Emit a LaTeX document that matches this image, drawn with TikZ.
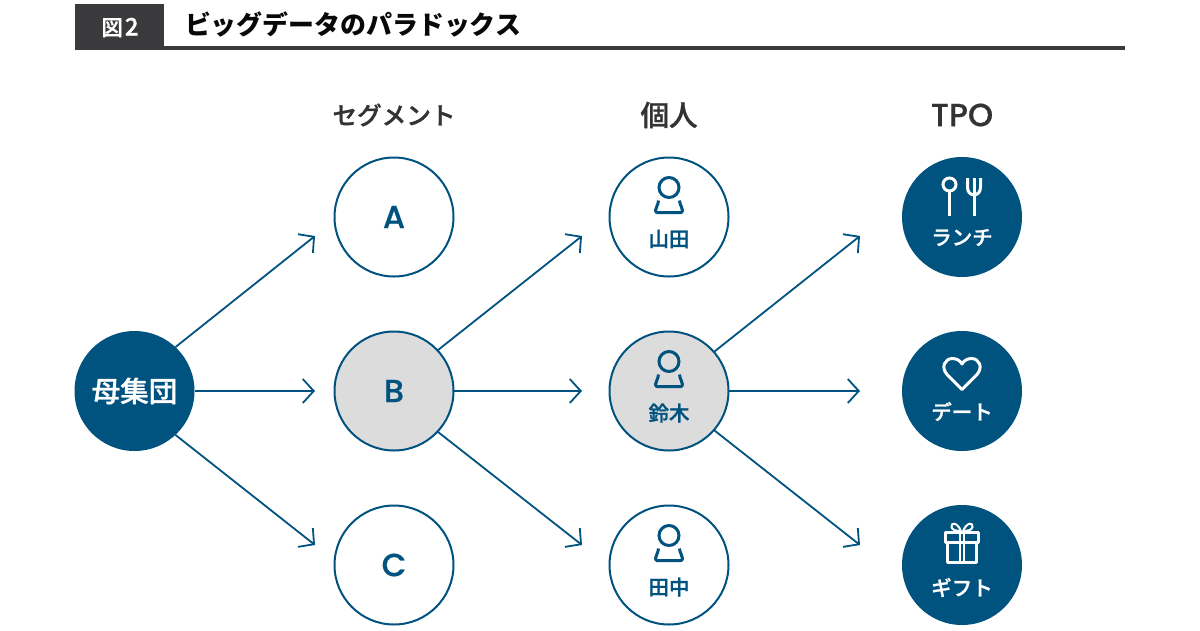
\documentclass[tikz,border=0pt]{standalone}
\usepackage{fontspec}
\setmainfont{Noto Sans CJK JP}
\newfontfamily\semijp{Noto Sans CJK JP Medium}[FakeBold=1.2]
\newfontfamily\latinhead{Poppins Medium}[FakeBold=0.6]
\usetikzlibrary{arrows.meta}
\definecolor{navy}{HTML}{00527F}
\definecolor{ink}{HTML}{333333}
\definecolor{headbar}{HTML}{3A3A3C}
\definecolor{hilite}{HTML}{DCDCDC}
\tikzset{
  every node/.style={inner sep=0pt,outer sep=0pt},
  ringbox/.style={circle,draw=navy,line width=2pt,fill=white,minimum size=119pt},
  greybox/.style={ringbox,fill=hilite},
  solidbox/.style={circle,fill=navy,minimum size=120pt},
  conn/.style={draw=navy,line width=1.8pt,-{Straight Barb[length=11pt,width=24pt,line width=1.8pt]}},
  headtext/.style={text=ink},
  lettertext/.style={text=navy,font=\fontsize{32}{32}\latinhead},
  nametext/.style={text=navy,font=\fontsize{20.5}{21}\semijp},
  tpotext/.style={text=white,font=\fontsize{20.5}{21}\semijp},
  personicon/.pic={
    \draw[navy,line width=3pt] (0,-29.5) circle (10pt);
    \draw[navy,line width=3pt,line join=round] (-10.5,-16.5) .. controls (-11,-11) and (-13.5,-10) .. (-13.5,-6.5) .. controls (-13.5,-5) and (-12.5,-4.3) .. (-11,-4.3) -- (11,-4.3) .. controls (12.5,-4.3) and (13.5,-5) .. (13.5,-6.5) .. controls (13.5,-10) and (11,-11) .. (10.5,-16.5);
  },
  iconline/.style={white,line width=3pt}
}
\begin{document}
\begin{tikzpicture}[x=1pt,y=-1pt]
\useasboundingbox (0,0) rectangle (1200,630);
% header
\fill[headbar] (75,4) rectangle (164,50);
\fill[headbar] (164,45.5) rectangle (1125,50);
\node[text=white,font=\fontsize{21.5}{22}\semijp] (fig) at (120,27.5) {図\kern2pt{\fontsize{24}{24}\selectfont 2}};
\node[anchor=west,text=black!85!ink,font=\fontsize{25.9}{26}\selectfont\bfseries] (title) at (185,24.5) {ビッグデータのパラドックス};
% column heads
\node[headtext,font=\fontsize{24.6}{25}\semijp] (h1) at (394,115) {セグメント};
\node[headtext,font=\fontsize{28.5}{29}\semijp] (h2) at (669,115) {個人};
\node[headtext,font=\fontsize{32}{32}\latinhead] (h3) at (962,115) {TPO};
% nodes
\node[solidbox,text=white,font=\fontsize{28.5}{29}\semijp] (m) at (134.5,391) {母集団};
\node[ringbox,lettertext] (a) at (394,217) {A};
\node[greybox,lettertext] (b) at (394,391) {B};
\node[ringbox,lettertext] (c) at (394,565) {C};
\node[ringbox] (p1) at (669,217) {};
\node[greybox] (p2) at (669,391) {};
\node[ringbox] (p3) at (669,565) {};
\node[solidbox] (t1) at (962,217) {};
\node[solidbox] (t2) at (962,391) {};
\node[solidbox] (t3) at (962,565) {};
% labels
\node[nametext] (n1) at (669,239) {山田};
\node[nametext] (n2) at (669,413) {鈴木};
\node[nametext] (n3) at (669,587) {田中};
\node[tpotext] (l1) at (962,237.5) {ランチ};
\node[tpotext] (l2) at (962,411.5) {デート};
\node[tpotext] (l3) at (962,587.5) {ギフト};
% person icons
\pic at (669,217) {personicon};
\pic at (669,391) {personicon};
\pic at (669,565) {personicon};
% spoon and fork
\draw[iconline] (949.5,184.5) circle (6.5pt);
\draw[iconline] (949.5,191) -- (949.5,216);
\draw[iconline] (974,178) -- (974,216);
\draw[iconline] (967.5,178) -- (967.5,187) .. controls (967.5,192) and (970,194.5) .. (974,195) .. controls (978,194.5) and (980.5,192) .. (980.5,187) -- (980.5,178);
% heart
\draw[iconline,line join=round] (962,389.5) -- (947,374.5) .. controls (940.5,367) and (945,358.5) .. (952.5,358.5) .. controls (957,358.5) and (960.5,361) .. (962,364) .. controls (963.5,361) and (967,358.5) .. (971.5,358.5) .. controls (979,358.5) and (983.5,367) .. (977,374.5) -- cycle;
% gift
\draw[iconline,line join=round] (945.5,532) rectangle (978,542.5);
\draw[iconline,line join=round] (947.5,542.5) rectangle (976,562);
\draw[white,line width=2pt] (960,532) -- (960,562) (964,532) -- (964,562);
\draw[white,line width=2pt] (961,531) .. controls (957,522) and (951,522) .. (951.5,527) .. controls (952,530) and (956,531) .. (961,531);
\draw[white,line width=2pt] (963,531) .. controls (967,522) and (973,522) .. (972.5,527) .. controls (972,530) and (968,531) .. (963,531);
% connectors
\coordinate (e1) at (315,236); \coordinate (e2) at (315,391); \coordinate (e3) at (315,545);
\coordinate (e4) at (582,236); \coordinate (e5) at (582,391); \coordinate (e6) at (582,545);
\coordinate (e7) at (860,236); \coordinate (e8) at (860,391); \coordinate (e9) at (860,545);
\draw[conn] (m.47) -- (e1);
\draw[conn] (m.east) -- (e2);
\draw[conn] (m.-47) -- (e3);
\draw[conn] (b.43) -- (e4);
\draw[conn] (b.east) -- (e5);
\draw[conn] (b.-43) -- (e6);
\draw[conn] (p2.41) -- (e7);
\draw[conn] (p2.east) -- (e8);
\draw[conn] (p2.-41) -- (e9);
\end{tikzpicture}
\end{document}
